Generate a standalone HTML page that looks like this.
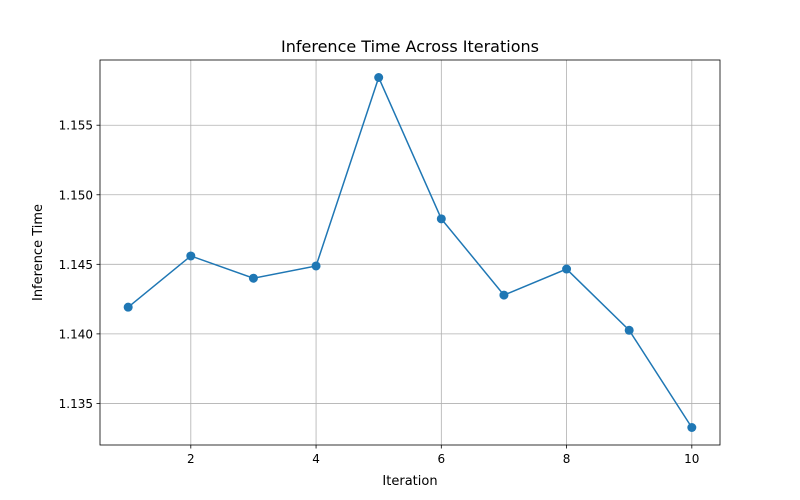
<!DOCTYPE html>
<html><head><meta charset="utf-8"><style>
body{margin:0;background:#fff}
svg{display:block;font-family:"DejaVu Sans","Liberation Sans",sans-serif}
</style></head><body>
<svg id="chart" width="800" height="500">
<rect width="800" height="500" fill="#fff"/>
<g id="grid"></g><g id="axes"></g><g id="series"></g>
<text x="410" y="52" text-anchor="middle" font-size="16">Inference Time Across Iterations</text>
<text x="410" y="485" text-anchor="middle" font-size="13">Iteration</text>
<text transform="translate(42,252.5) rotate(-90)" text-anchor="middle" font-size="13">Inference Time</text>
</svg>
<script>
const iterations=[1,2,3,4,5,6,7,8,9,10];
const times=[1.14192,1.1456,1.1440,1.14488,1.15843,1.14827,1.14279,1.14466,1.14026,1.13327];
const xTicks=[2,4,6,8,10];
const yTicks=[1.135,1.140,1.145,1.150,1.155];
const L=100,R=720,T=60,B=445;
const xmin=0.55,xmax=10.45;
const ymn=Math.min(...times),ymx=Math.max(...times),pad=(ymx-ymn)*0.05;
const ymin=ymn-pad,ymax=ymx+pad;
const sx=v=>L+(v-xmin)/(xmax-xmin)*(R-L);
const sy=v=>B-(v-ymin)/(ymax-ymin)*(B-T);
const NS="http://www.w3.org/2000/svg";
function mk(p,tag,a){const e=document.createElementNS(NS,tag);for(const k in a)e.setAttribute(k,a[k]);p.appendChild(e);return e;}
const grid=document.getElementById('grid'),axes=document.getElementById('axes'),ser=document.getElementById('series');
xTicks.forEach(t=>{const x=sx(t);
const g=mk(grid,'line',{x1:x,x2:x,y1:T,y2:B,stroke:'#b0b0b0','stroke-width':0.8});


mk(axes,'line',{x1:x,x2:x,y1:B,y2:B+3.5,stroke:'#000','stroke-width':0.8});
const tx=mk(axes,'text',{x:x,y:B+18,'text-anchor':'middle','font-size':12});tx.textContent=t;

});
yTicks.forEach(t=>{const y=sy(t);
const g=mk(grid,'line',{x1:L,x2:R,y1:y,y2:y,stroke:'#b0b0b0','stroke-width':0.8});


mk(axes,'line',{x1:L-3.5,x2:L,y1:y,y2:y,stroke:'#000','stroke-width':0.8});
const tx=mk(axes,'text',{x:L-7,y:y+4.5,'text-anchor':'end','font-size':12});tx.textContent=t.toFixed(3);

});
const fr=mk(axes,'rect',{x:L,y:T,width:R-L,height:B-T,fill:'none',stroke:'#000','stroke-width':0.8});


const pl=mk(ser,'polyline',{points:iterations.map((v,i)=>sx(v)+','+sy(times[i])).join(' '),fill:'none',stroke:'#1f77b4','stroke-width':1.5});


iterations.forEach((v,i)=>{const c=mk(ser,'circle',{cx:sx(v),cy:sy(times[i]),r:4.5,fill:'#1f77b4'});

});
</script>
</body></html>
